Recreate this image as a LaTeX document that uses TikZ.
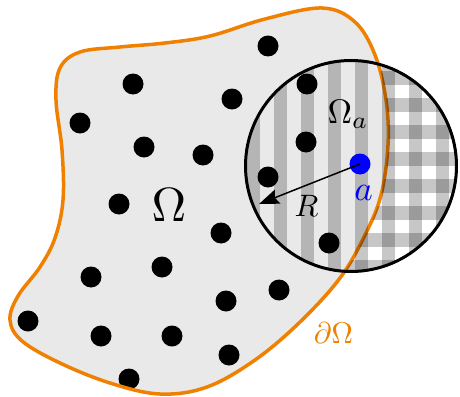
\documentclass[tikz,border=0pt]{standalone}
\usepackage{fix-cm}
\usetikzlibrary{arrows.meta}
\definecolor{omegafill}{HTML}{E9E9E9}
\definecolor{bdry}{HTML}{F08000}
\def\omegapath{plot[smooth cycle, tension=0.6] coordinates {
 (322,8) (355,22) (375,55) (386,100) (388,145) (381,195) (365,235) (340,278)
 (300,322) (255,360) (207,387) (160,394) (110,383) (60,363) (22,341) (10,320)
 (18,296) (40,267) (55,238) (63,200) (62,150) (56,100) (60,68) (80,52)
 (120,47) (165,43) (210,36) (265,19)}}
\tikzset{
 dot/.style={circle, fill=black, inner sep=0pt, minimum size=21pt},
 bluedot/.style={circle, fill=blue, inner sep=0pt, minimum size=21pt},
 band/.style={fill=black, fill opacity=0.22},
 lbl/.style={inner sep=0pt},
 arr/.style={line width=1.5pt, -{Stealth[length=20pt, width=15pt, inset=3pt]}}
}
\begin{document}
\begin{tikzpicture}[x=1pt, y=-1pt]
\useasboundingbox (0,0) rectangle (460,396);
\coordinate (C) at (351,166);
% domain
\fill[omegafill] \omegapath;
% points
\foreach \p [count=\i] in {(268,46),(133,84),(232,99),(307,84),(80,123),(144,147),
 (203,155),(306,142),(268,177),(119,204),(221,233),(329,243),(162,267),(91,277),
 (279,290),(226,301),(28,321),(101,336),(172,336),(229,355),(129,379)}
 \node[dot] (d\i) at \p {};
% boundary
\draw[bdry, line width=3.5pt] \omegapath;
% vertical stripes in the ball
\begin{scope}
 \clip (C) circle [radius=105.5pt];
 \foreach \k in {0,...,8} \fill[band] ({246.5+27*\k},50) rectangle ++(13.5,240);
\end{scope}
% horizontal stripes outside the domain
\begin{scope}[even odd rule]
 \clip (C) circle [radius=105.5pt];
 \clip (-10,-10) rectangle (470,406) \omegapath;
 \foreach \k in {-4,...,4} \fill[band] (235,{152+27*\k}) rectangle ++(235,13.5);
\end{scope}
% ball outline
\draw[line width=3pt] (C) circle [radius=105.5pt];
% centre point and radius
\node[bluedot] (a) at (360,164) {};
\coordinate (Rtip) at (259,204);
\draw[arr] (a.center) -- (Rtip);
% labels
\node[lbl] (Om) at (169,205) {\scalebox{4.8}{$\Omega$}};
\node[lbl] (Oma) at (348,114) {\scalebox{3.4}{$\Omega_a$}};
\node[lbl, text=blue] (alab) at (363.5,193) {\scalebox{3.5}{$a$}};
\node[lbl] (Rlab) at (306.5,205.5) {\scalebox{3.1}{$R$}};
\node[lbl, text=bdry] (dOm) at (333.5,333) {\scalebox{3.0}{$\partial\Omega$}};
\end{tikzpicture}
\end{document}
